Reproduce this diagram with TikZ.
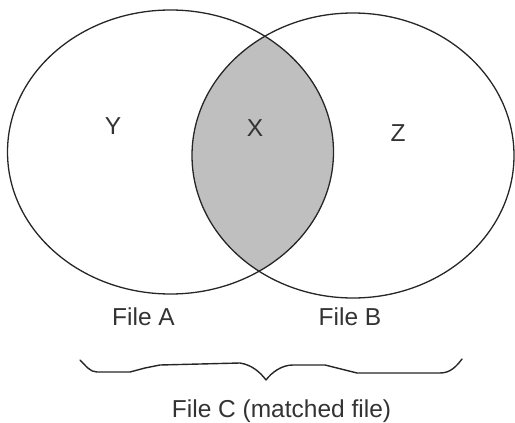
\documentclass[tikz,border=0pt]{standalone}
\usepackage{fontspec}
\setmainfont{Liberation Sans}
\begin{document}
\begin{tikzpicture}[x=1pt,y=-1pt,
  setline/.style={draw=black!85,line width=1.3pt},
  lbl/.style={font=\fontsize{24.5}{28}\selectfont,text=black!80,inner sep=0pt},
  bracestyle/.style={draw=black!85,line width=1.4pt,line join=round,line cap=round}]
\useasboundingbox (0,0) rectangle (515,423);
% the two sets
\coordinate (ca) at (170.5,152);
\coordinate (cb) at (353,155.5);
% shaded overlap of File A and File B
\begin{scope}
  \clip (ca) ellipse [x radius=163,y radius=142];
  \fill[black!25] (cb) ellipse [x radius=161,y radius=142.5];
\end{scope}
\draw[setline] (ca) ellipse [x radius=163,y radius=142];
\draw[setline] (cb) ellipse [x radius=161,y radius=142.5];
% region labels
\node[lbl] (y) at (113,126) {Y};
\node[lbl] (x) at (255,128) {X};
\node[lbl] (z) at (398,133) {Z};
% set labels
\node[lbl] (fa) at (143.5,317) {File A};
\node[lbl] (fb) at (350,317) {File B};
% brace spanning both files
\coordinate (bl) at (80,360);
\coordinate (bt) at (266,380);
\coordinate (br) at (462,359);
\draw[bracestyle] (bl) .. controls (86,366) and (90,372) .. (97,372)
  -- (130,372) -- (145,368) -- (160,365) -- (240,363)
  .. controls (252,365) and (260,372) .. (bt)
  .. controls (272,372) and (282,365) .. (293,365)
  -- (325,365) -- (345,370) -- (357,373) -- (440,373)
  .. controls (450,373) and (456,367) .. (br);
\node[lbl] (fc) at (281.5,411) {File C (matched file)};
\end{tikzpicture}
\end{document}
